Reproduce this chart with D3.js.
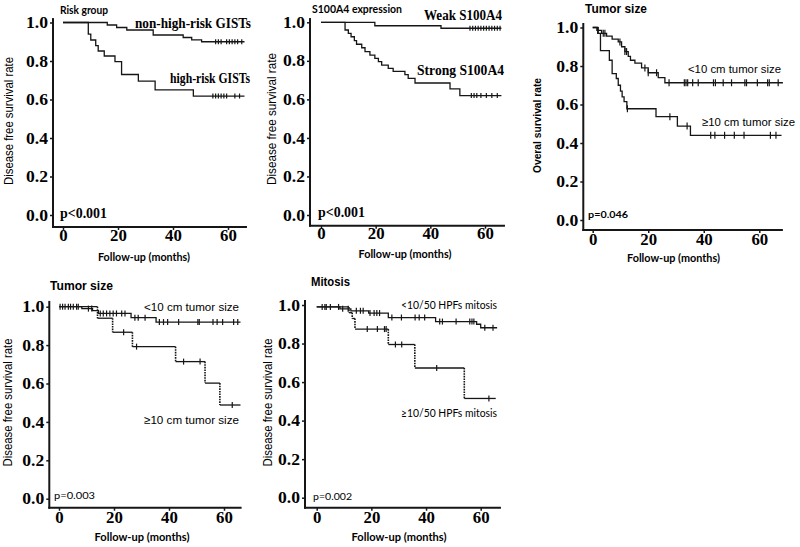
<!DOCTYPE html>
<html><head><meta charset="utf-8">
<script src="https://cdn.jsdelivr.net/npm/d3@7/dist/d3.min.js"></script>
<style>body{margin:0;background:#fff}svg{display:block}</style>
</head><body><svg id="c" width="800" height="547"></svg>
<script>
// ---------------- DATA ----------------
const yTickValues = [0, 0.2, 0.4, 0.6, 0.8, 1.0];
const xTickValues = [0, 20, 40, 60];

// Panel 1: Risk group (DFS)
const riskLowTimes = [0, 16.1, 19.5, 23.2, 32.8, 43.7, 46.8, 50.4];
const riskLowSurv  = [1.0, 0.987, 0.974, 0.961, 0.935, 0.922, 0.91, 0.90];
const riskLowCensor = [55.5, 56.5, 57.5, 59.5, 60.5, 61.5, 62.5, 63.5, 65];
const riskHighTimes = [0, 9.2, 10.1, 11.9, 12.8, 15.0, 18.9, 21.3, 27.4, 33.5, 47.4];
const riskHighSurv  = [1.0, 0.94, 0.909, 0.88, 0.852, 0.826, 0.797, 0.73, 0.695, 0.65, 0.618];
const riskHighCensor = [54.5, 55.5, 56.5, 57.5, 58.5, 59.5, 62.5, 64.2];

// Panel 2: S100A4 expression (DFS)
const weakTimes = [0, 19.7, 43.9];
const weakSurv  = [1.0, 0.982, 0.969];
const weakCensor = [54.5, 55.5, 56.5, 57.5, 58.5, 59.5, 60.5, 61.5, 62.5, 63.5, 64.5, 65.5];
const strongTimes = [0, 8.8, 10.0, 11.0, 12.2, 13.0, 14.9, 16.1, 17.9, 19.7, 21.0, 22.2, 24.6, 26.4, 30.7, 31.9, 34.4, 47.2, 50.8];
const strongSurv  = [1.0, 0.96, 0.943, 0.925, 0.905, 0.886, 0.868, 0.848, 0.83, 0.813, 0.796, 0.778, 0.761, 0.745, 0.728, 0.709, 0.685, 0.655, 0.62];
const strongCensor = [55, 56, 57, 58.5, 60.5, 62.5, 64.5];

// Panel 3: Tumor size (OS)
const osSmallTimes = [0, 1.5, 3.2, 5.0, 7.0, 9.2, 10.4, 11.6, 12.8, 13.6, 15.2, 17.6, 20, 23.6, 26];
const osSmallSurv  = [1.0, 0.985, 0.97, 0.955, 0.94, 0.925, 0.90, 0.875, 0.85, 0.83, 0.815, 0.79, 0.765, 0.74, 0.713];
const osSmallCensor = [2.0, 3.8, 4.4, 9.8, 11.6, 12.2, 18.8, 20.0, 23.0, 27.5, 33, 33.6, 34.2, 36, 38, 43.5, 44.2, 47, 50, 54.8, 55.4, 59.3, 63, 63.6, 66.8];
const osLargeTimes = [0, 1.8, 2.8, 6.0, 7.0, 8.5, 9.2, 10.0, 10.6, 11.3, 12.3, 22.8, 30.5, 35.2];
const osLargeSurv  = [1.0, 0.97, 0.88, 0.83, 0.76, 0.735, 0.70, 0.67, 0.64, 0.615, 0.578, 0.537, 0.488, 0.44];
const osLargeCensor = [12.5, 27.8, 34, 42.5, 44, 47.5, 51, 54.5, 64, 66];

// Panel 4: Tumor size (DFS)
const dfsSmallTimes = [0, 8.3, 12.2, 14.3, 26.2, 35.3];
const dfsSmallSurv  = [1.0, 0.99, 0.98, 0.965, 0.943, 0.92];
const dfsSmallCensor = [0.4, 1.3, 2.2, 3.4, 4.2, 5.2, 6.4, 7.0, 10.7, 11.9, 15, 16.1, 17.3, 18.5, 19.7, 20.9, 22.8, 24, 27.6, 28.8, 31.3, 36.5, 38, 39.5, 43.5, 50.5, 51, 56, 57.5, 59.5, 63.5, 65];
const dfsLargeTimes = [0, 14, 19.5, 26.7, 42.4, 53.1, 58.5];
const dfsLargeSurv  = [1.0, 0.94, 0.867, 0.792, 0.714, 0.602, 0.488];
const dfsLargeCensor = [23.5, 28.2, 45.3, 51.3, 63];

// Panel 5: Mitosis (DFS)
const mitLowTimes = [0, 8.5, 12.5, 19, 26.2, 43.5, 58.5, 60];
const mitLowSurv  = [0.99, 0.98, 0.97, 0.958, 0.935, 0.914, 0.90, 0.882];
const mitLowCensor = [2, 3, 3.5, 5, 8, 9.5, 11.5, 14.5, 16, 17, 19.5, 21, 22, 23, 27.5, 31, 36, 37.5, 39.5, 45, 46, 51, 56, 56.8, 57.5, 61.5, 64.5];
const mitHighTimes = [0, 11.8, 13, 14, 26.2, 35.9, 54];
const mitHighSurv  = [0.99, 0.96, 0.93, 0.875, 0.795, 0.673, 0.515];
const mitHighCensor = [18.5, 22.2, 24.8, 25.4, 28.8, 31.1, 43.9, 63];

// ---------------- DRAWING ----------------
const SERIF = '"Liberation Serif","Times New Roman",serif';
const ARIAL = '"Liberation Sans",Arial,sans-serif';
const CAL = 'Lato,"Open Sans",sans-serif';
const INK = '#161616';

const svg = d3.select('#c');
svg.append('rect').attr('width', 800).attr('height', 547).attr('fill', '#fff');

function txt(g, x, y, s, o) {
  const t = g.append('text').text(s)
    .attr('font-family', o.family || ARIAL)
    .attr('font-size', o.size || 12)
    .attr('font-weight', o.weight || 'normal')
    .attr('fill', '#000')
    .attr('text-anchor', o.anchor || 'start');
  if (o.rotate) {
    t.attr('transform', `translate(${x},${y}) rotate(-90)`).attr('dy', '0.35em');
  } else {
    t.attr('x', x).attr('y', y);
  }
  if (o.len) t.attr('textLength', o.len).attr('lengthAdjust', 'spacingAndGlyphs');
  return t;
}

function styleTickText(sel) {
  sel.attr('font-family', SERIF).attr('font-weight', 'bold').attr('font-size', 16).attr('fill', '#000')
    .attr('lengthAdjust', 'spacingAndGlyphs')
    .attr('textLength', function () { const s = this.textContent; return s.length === 3 ? 22 : s.length * 8.4; });
}

function drawPanel(c) {
  const x = d3.scaleLinear().domain([0, 60]).range(c.xr);
  const y = d3.scaleLinear().domain([0, 1]).range(c.yr);
  const g = svg.append('g');
  const axX = x(c.xDom[0]), axY = y(c.yDom[0]);

  const ya = g.append('g').attr('transform', `translate(${axX},0)`)
    .call(d3.axisLeft(y).tickValues(yTickValues).tickFormat(d3.format('.1f')).tickSize(3).tickPadding(2));
  ya.select('.domain').remove();
  ya.selectAll('line').attr('stroke', INK).attr('stroke-width', 1.5);
  styleTickText(ya.selectAll('text'));

  const xa = g.append('g').attr('transform', `translate(0,${axY})`)
    .call(d3.axisBottom(x).tickValues(xTickValues).tickFormat(d3.format('d')).tickSize(3).tickPadding(c.xPad));
  xa.select('.domain').remove();
  xa.selectAll('line').attr('stroke', INK).attr('stroke-width', 1.5);
  styleTickText(xa.selectAll('text'));

  g.append('line').attr('x1', axX).attr('x2', axX).attr('y1', y(c.yDom[1])).attr('y2', axY + 1)
    .attr('stroke', INK).attr('stroke-width', 2);
  g.append('line').attr('x1', axX - 1).attr('x2', x(c.xDom[1])).attr('y1', axY).attr('y2', axY)
    .attr('stroke', INK).attr('stroke-width', 2);

  const line = d3.line().x(d => x(d[0])).y(d => y(d[1])).curve(d3.curveStepAfter);
  c.series.forEach(s => {
    if (!s.vdash) {
      const pts = s.t.map((t, i) => [t, s.s[i]]);
      pts.push([s.end, s.s[s.s.length - 1]]);
      g.append('path').attr('d', line(pts)).attr('fill', 'none')
        .attr('stroke', INK).attr('stroke-width', 1.3);
    } else {
      // solid horizontal runs, dotted vertical drops
      const hs = s.t.map((t, i) => ({x1: t, x2: i < s.t.length - 1 ? s.t[i + 1] : s.end, v: s.s[i]}));
      g.selectAll(null).data(hs).join('line')
        .attr('x1', d => x(d.x1)).attr('x2', d => x(d.x2))
        .attr('y1', d => y(d.v)).attr('y2', d => y(d.v))
        .attr('stroke', INK).attr('stroke-width', 1.3);
      const vs = s.t.slice(1).map((t, i) => ({t: t, a: s.s[i], b: s.s[i + 1]}));
      g.selectAll(null).data(vs).join('line')
        .attr('x1', d => x(d.t)).attr('x2', d => x(d.t))
        .attr('y1', d => y(d.a)).attr('y2', d => y(d.b))
        .attr('stroke', INK).attr('stroke-width', 1.6).attr('stroke-dasharray', '1.6,1');
    }
    const surv = t => { let v = s.s[0]; s.t.forEach((tt, i) => { if (tt <= t) v = s.s[i]; }); return v; };
    g.selectAll(null).data(s.c).join('line')
      .attr('x1', d => x(d)).attr('x2', d => x(d))
      .attr('y1', d => y(surv(d)) - c.tick).attr('y2', d => y(surv(d)) + c.tick)
      .attr('stroke', INK).attr('stroke-width', 1.2);
  });

  c.texts.forEach(t => txt(g, t.x, t.y, t.s, t));
}

// Panel 1
drawPanel({
  xr: [63, 228], yr: [215, 22.5], xDom: [-3.64, 66.9], yDom: [-0.062, 1.023], xPad: 0, tick: 2.5,
  series: [
    {t: riskLowTimes, s: riskLowSurv, c: riskLowCensor, end: 66},
    {t: riskHighTimes, s: riskHighSurv, c: riskHighCensor, end: 66}
  ],
  texts: [
    {x: 60, y: 14, s: 'Risk group', family: CAL, weight: 'bold', size: 10.5, len: 48},
    {x: 251, y: 28, s: 'non-high-risk GISTs', family: SERIF, weight: 'bold', size: 14, anchor: 'end', len: 116},
    {x: 250, y: 83, s: 'high-risk GISTs', family: SERIF, weight: 'bold', size: 14, anchor: 'end', len: 80},
    {x: 60, y: 217.5, s: 'p<0.001', family: SERIF, weight: 'bold', size: 14, len: 47},
    {x: 144, y: 261, s: 'Follow-up (months)', family: CAL, weight: 'bold', size: 10.5, anchor: 'middle', len: 92},
    {x: 9, y: 121, s: 'Disease free survival rate', family: ARIAL, size: 12.5, anchor: 'middle', rotate: true, len: 128}
  ]
});

// Panel 2
drawPanel({
  xr: [321, 485], yr: [215, 22.3], xDom: [-4.02, 67.3], yDom: [-0.0555, 1.022], xPad: -1, tick: 2.5,
  series: [
    {t: weakTimes, s: weakSurv, c: weakCensor, end: 66},
    {t: strongTimes, s: strongSurv, c: strongCensor, end: 66}
  ],
  texts: [
    {x: 312, y: 13, s: 'S100A4 expression', family: CAL, weight: 'bold', size: 10.5, len: 90},
    {x: 502, y: 20, s: 'Weak S100A4', family: SERIF, weight: 'bold', size: 14, anchor: 'end', len: 78},
    {x: 504, y: 75, s: 'Strong S100A4', family: SERIF, weight: 'bold', size: 14, anchor: 'end', len: 87},
    {x: 318, y: 217, s: 'p<0.001', family: SERIF, weight: 'bold', size: 14, len: 47},
    {x: 405, y: 258, s: 'Follow-up (months)', family: CAL, weight: 'bold', size: 10.5, anchor: 'middle', len: 93},
    {x: 272, y: 119, s: 'Disease free survival rate', family: ARIAL, size: 12.5, anchor: 'middle', rotate: true, len: 132}
  ]
});

// Panel 3
drawPanel({
  xr: [592.7, 759.3], yr: [220, 27.5], xDom: [-3.39, 68.5], yDom: [-0.052, 1.0234], xPad: 1, tick: 3.5,
  series: [
    {t: osSmallTimes, s: osSmallSurv, c: osSmallCensor, end: 68.5},
    {t: osLargeTimes, s: osLargeSurv, c: osLargeCensor, end: 68}
  ],
  texts: [
    {x: 585, y: 12.5, s: 'Tumor size', family: ARIAL, weight: 'bold', size: 12, len: 62},
    {x: 781, y: 73, s: '<10 cm tumor size', family: ARIAL, size: 11.5, anchor: 'end', len: 93},
    {x: 795, y: 126, s: '≥10 cm tumor size', family: ARIAL, size: 11.5, anchor: 'end', len: 93},
    {x: 588, y: 217.5, s: 'p=0.046', family: CAL, weight: 'bold', size: 10, len: 40},
    {x: 673.5, y: 262, s: 'Follow-up (months)', family: CAL, weight: 'bold', size: 10.5, anchor: 'middle', len: 93},
    {x: 537.5, y: 125.5, s: 'Overal survival rate', family: ARIAL, weight: 'bold', size: 10, anchor: 'middle', rotate: true, len: 95}
  ]
});

// Panel 4
drawPanel({
  xr: [59, 224], yr: [498.7, 306.7], xDom: [-3.53, 66.4], yDom: [-0.047, 1.03], xPad: 1, tick: 3,
  series: [
    {t: dfsSmallTimes, s: dfsSmallSurv, c: dfsSmallCensor, end: 66},
    {t: dfsLargeTimes, s: dfsLargeSurv, c: dfsLargeCensor, end: 66, vdash: true}
  ],
  texts: [
    {x: 50, y: 290, s: 'Tumor size', family: ARIAL, weight: 'bold', size: 12, len: 63},
    {x: 239, y: 311, s: '<10 cm tumor size', family: ARIAL, size: 11.5, anchor: 'end', len: 95},
    {x: 239, y: 424, s: '≥10 cm tumor size', family: ARIAL, size: 11.5, anchor: 'end', len: 95},
    {x: 54, y: 498.5, s: 'p=0.003', family: CAL, size: 10, len: 41},
    {x: 142, y: 540.5, s: 'Follow-up (months)', family: CAL, weight: 'bold', size: 10.5, anchor: 'middle', len: 95},
    {x: 8, y: 402.5, s: 'Disease free survival rate', family: ARIAL, size: 12.5, anchor: 'middle', rotate: true, len: 128}
  ]
});

// Panel 5
drawPanel({
  xr: [316.7, 480.7], yr: [497.7, 305], xDom: [-4.28, 67.4], yDom: [-0.052, 1.026], xPad: 1, tick: 3,
  series: [
    {t: mitLowTimes, s: mitLowSurv, c: mitLowCensor, end: 66},
    {t: mitHighTimes, s: mitHighSurv, c: mitHighCensor, end: 65.5, vdash: true}
  ],
  texts: [
    {x: 311, y: 286, s: 'Mitosis', family: ARIAL, weight: 'bold', size: 12, len: 39},
    {x: 497, y: 309, s: '<10/50 HPFs mitosis', family: CAL, size: 11, anchor: 'end', len: 96},
    {x: 497, y: 416.5, s: '≥10/50 HPFs mitosis', family: CAL, size: 11, anchor: 'end', len: 96},
    {x: 313, y: 500, s: 'p=0.002', family: CAL, size: 10, len: 39},
    {x: 399, y: 541, s: 'Follow-up (months)', family: CAL, weight: 'bold', size: 10.5, anchor: 'middle', len: 95},
    {x: 267.5, y: 402.5, s: 'Disease free survival rate', family: ARIAL, size: 12.5, anchor: 'middle', rotate: true, len: 128}
  ]
});
</script>
</body></html>
